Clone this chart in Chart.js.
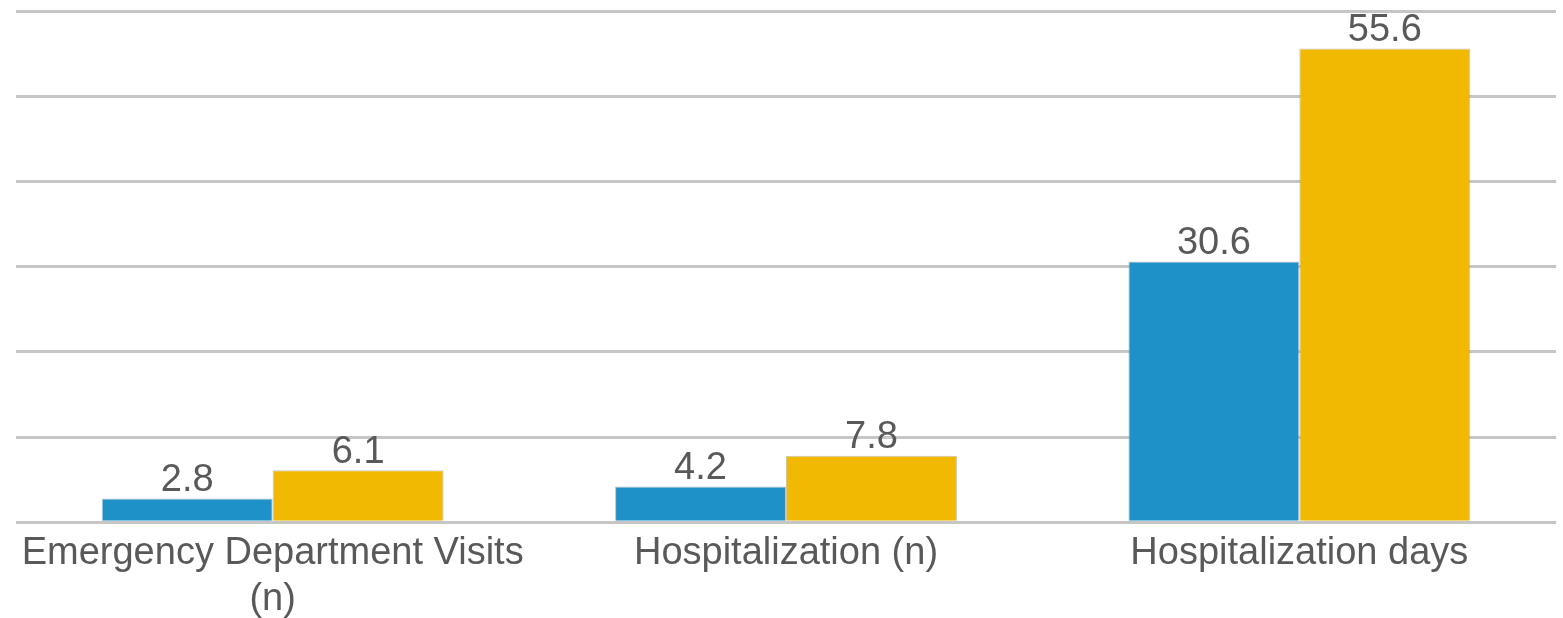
<!DOCTYPE html>
<html>
<head>
<meta charset="utf-8">
<script src="https://cdn.jsdelivr.net/npm/chart.js@4/dist/chart.umd.min.js"></script>
<style>
  html, body { margin: 0; padding: 0; background: #ffffff; }
  #wrap { width: 1563px; height: 618px; position: relative; }
</style>
</head>
<body>
<div id="wrap"><canvas id="chart"></canvas></div>
<script>
// Healthcare utilisation per group
const categories = [
  ["Emergency Department Visits", "(n)"],
  "Hospitalization (n)",
  "Hospitalization days"
];
const seriesBlue = [2.8, 4.2, 30.6];
const seriesGold = [6.1, 7.8, 55.6];
const yTicks = [0, 10, 20, 30, 40, 50, 60];

const TEXT = "#595959";
const FONT = "Liberation Sans, Arial, sans-serif";
const FONT_SIZE = 38;

// Writes each bar's value just above its top edge
const valueLabels = {
  id: "valueLabels",
  afterDatasetsDraw(chart) {
    const ctx = chart.ctx;
    ctx.save();
    ctx.font = FONT_SIZE + "px " + FONT;
    ctx.fillStyle = TEXT;
    ctx.textAlign = "center";
    ctx.textBaseline = "alphabetic";
    chart.data.datasets.forEach((ds, i) => {
      chart.getDatasetMeta(i).data.forEach((bar, j) => {
        ctx.fillText(ds.data[j].toFixed(1), bar.x, bar.y - 7.5);
      });
    });
    ctx.restore();
  }
};

new Chart(document.getElementById("chart"), {
  type: "bar",
  data: {
    labels: categories,
    datasets: [
      {
        label: "Series 1",
        data: seriesBlue,
        backgroundColor: "#1f91c9",
        borderColor: "rgba(150,150,150,0.55)",
        borderWidth: 1
      },
      {
        label: "Series 2",
        data: seriesGold,
        backgroundColor: "#f1b901",
        borderColor: "rgba(150,150,150,0.55)",
        borderWidth: 1
      }
    ]
  },
  options: {
    responsive: true,
    maintainAspectRatio: false,
    animation: false,
    devicePixelRatio: 1,
    layout: { padding: { left: 16, right: 7, top: 11, bottom: -13 } },
    plugins: {
      legend: { display: false },
      tooltip: { enabled: false }
    },
    datasets: {
      bar: { categoryPercentage: 0.666, barPercentage: 1.0 }
    },
    scales: {
      x: {
        grid: { display: false, drawTicks: false, tickLength: 0 },
        border: { display: false },
        ticks: {
          color: TEXT,
          font: { family: FONT, size: FONT_SIZE, lineHeight: 1.22 },
          padding: 8,
          maxRotation: 0,
          autoSkip: false
        }
      },
      y: {
        min: yTicks[0],
        max: yTicks[yTicks.length - 1],
        afterBuildTicks(scale) {
          scale.ticks = yTicks.map(v => ({ value: v }));
        },
        grid: { color: "#c6c6c6", lineWidth: 3, drawTicks: false, tickLength: 0 },
        border: { display: false },
        ticks: { display: false }
      }
    }
  },
  plugins: [valueLabels]
});
</script>
</body>
</html>
